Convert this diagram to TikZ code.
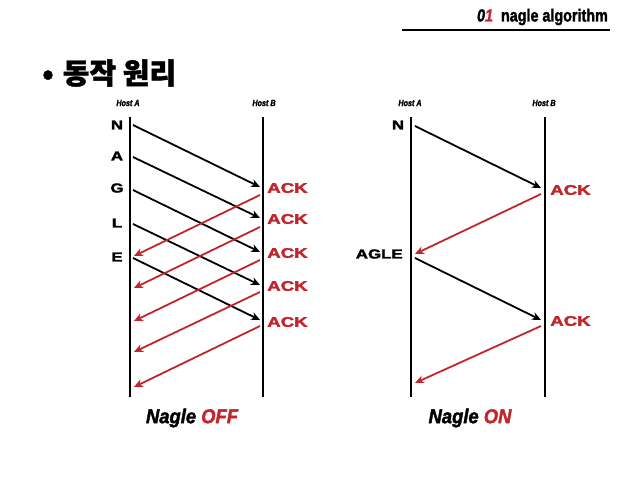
\documentclass[tikz,border=0pt]{standalone}
\usepackage{fontspec}
\setmainfont{Liberation Sans}
\newfontfamily\heavyfont{Liberation Sans}[FakeBold=2]
\newfontfamily\krfont{Noto Sans CJK KR}[FakeBold=1.5]
\usetikzlibrary{arrows.meta}
\definecolor{nred}{RGB}{192,38,44}
\tikzset{
  lifeline/.style={line width=2.6pt,black},
  msg/.style={line width=1.8pt,black,-{Stealth[length=9pt,width=8pt]}},
  ackmsg/.style={line width=1.8pt,nred,-{Stealth[length=9pt,width=8pt]}},
  hostlbl/.style={font=\heavyfont\fontsize{9}{9}\selectfont\bfseries\itshape,xscale=0.8,inner sep=0pt},
  letter/.style={font=\heavyfont\fontsize{13}{13}\selectfont\bfseries,xscale=1.3,inner sep=0pt},
  acklbl/.style={font=\heavyfont\fontsize{14}{14}\selectfont\bfseries,xscale=1.33,inner sep=0pt,text=nred,anchor=west},
  caption/.style={font=\heavyfont\fontsize{20}{20}\selectfont\bfseries\itshape,xscale=0.92,inner sep=0pt}
}
\begin{document}
\begin{tikzpicture}[x=1pt,y=-1pt]
\useasboundingbox (0,0) rectangle (638,479);
% header
\node[anchor=east,inner sep=0pt,font=\heavyfont\fontsize{17.5}{17.5}\selectfont\bfseries,xscale=0.82] (title) at (608,17) {\textit{0\textcolor{nred}{1}}\ \ nagle algorithm};
\coordinate (hl1) at (402,30);
\coordinate (hr1) at (610,30);
\draw[line width=2pt] (hl1) -- (hr1);
\node[anchor=west,inner sep=0pt,font=\krfont\fontsize{29}{29}\selectfont\bfseries] (head) at (42,73) {•\hspace{9pt}동작 원리};

% ---------- left diagram ----------
\coordinate (LAt) at (130,117); \coordinate (LAb) at (130,397);
\coordinate (LBt) at (263,117); \coordinate (LBb) at (263,397);
\draw[lifeline] (LAt) -- (LAb);
\draw[lifeline] (LBt) -- (LBb);
\node[hostlbl] (lha) at (128,103) {Host A};
\node[hostlbl] (lhb) at (264,103) {Host B};
\node[letter] (lN) at (117,125) {N};
\node[letter] (lA) at (117,156) {A};
\node[letter] (lG) at (117,188) {G};
\node[letter] (lL) at (117,223) {L};
\node[letter] (lE) at (117,257) {E};
\node[acklbl] (k1) at (267,188) {ACK};
\node[acklbl] (k2) at (267,219) {ACK};
\node[acklbl] (k3) at (267,253) {ACK};
\node[acklbl] (k4) at (267,286) {ACK};
\node[acklbl] (k5) at (267,322) {ACK};
% black sends
\coordinate (s1) at (133,125); \coordinate (e1) at (260,187);
\coordinate (s2) at (133,157); \coordinate (e2) at (260,218);
\coordinate (s3) at (133,190); \coordinate (e3) at (260,252);
\coordinate (s4) at (133,224); \coordinate (e4) at (260,285);
\coordinate (s5) at (133,258); \coordinate (e5) at (260,320);
\draw[msg] (s1) -- (e1);
\draw[msg] (s2) -- (e2);
\draw[msg] (s3) -- (e3);
\draw[msg] (s4) -- (e4);
\draw[msg] (s5) -- (e5);
% red acks
\coordinate (r1) at (260,195); \coordinate (t1) at (134,256);
\coordinate (r2) at (260,227); \coordinate (t2) at (134,288);
\coordinate (r3) at (260,260); \coordinate (t3) at (134,321);
\coordinate (r4) at (260,292); \coordinate (t4) at (134,352);
\coordinate (r5) at (260,326); \coordinate (t5) at (134,387);
\draw[ackmsg] (r1) -- (t1);
\draw[ackmsg] (r2) -- (t2);
\draw[ackmsg] (r3) -- (t3);
\draw[ackmsg] (r4) -- (t4);
\draw[ackmsg] (r5) -- (t5);
\node[caption] (capL) at (192,418) {Nagle \textcolor{nred}{OFF}};

% ---------- right diagram ----------
\coordinate (RAt) at (411,117); \coordinate (RAb) at (411,397);
\coordinate (RBt) at (545,117); \coordinate (RBb) at (545,397);
\draw[lifeline] (RAt) -- (RAb);
\draw[lifeline] (RBt) -- (RBb);
\node[hostlbl] (rha) at (410,103) {Host A};
\node[hostlbl] (rhb) at (544,103) {Host B};
\node[letter] (rN) at (398,125) {N};
\node[letter,anchor=east] (rAGLE) at (403,254) {AGLE};
\node[acklbl] (rk1) at (550,190) {ACK};
\node[acklbl] (rk2) at (550,321) {ACK};
\coordinate (rs1) at (415,126); \coordinate (re1) at (541,188);
\coordinate (rr1) at (541,194); \coordinate (rt1) at (415,254);
\coordinate (rs2) at (415,258); \coordinate (re2) at (541,320);
\coordinate (rr2) at (541,326); \coordinate (rt2) at (415,383);
\draw[msg] (rs1) -- (re1);
\draw[ackmsg] (rr1) -- (rt1);
\draw[msg] (rs2) -- (re2);
\draw[ackmsg] (rr2) -- (rt2);
\node[caption] (capR) at (470,418) {Nagle \textcolor{nred}{ON}};
\end{tikzpicture}
\end{document}
